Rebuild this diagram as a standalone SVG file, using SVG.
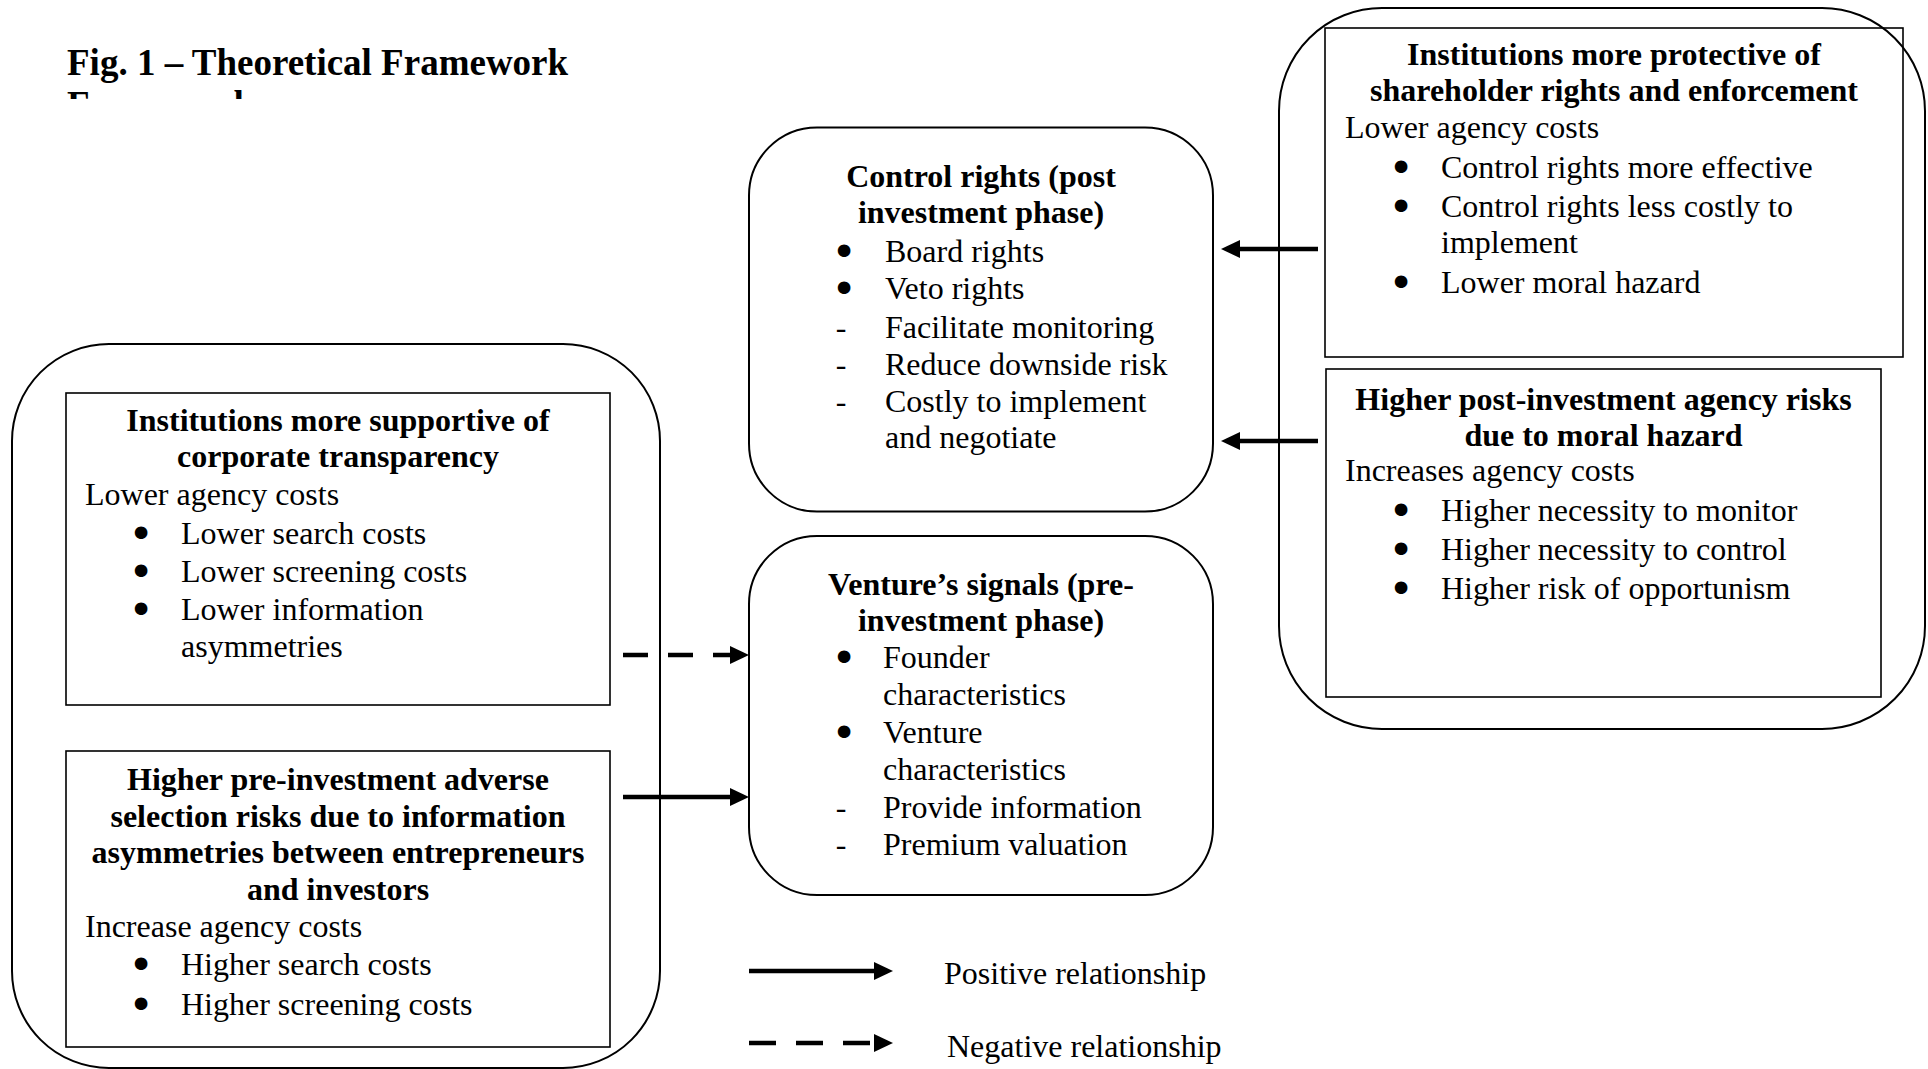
<svg xmlns="http://www.w3.org/2000/svg" width="1928" height="1069" viewBox="0 0 1928 1069">
<style>
text{font-family:"Liberation Serif","Times New Roman",serif;fill:#000}
.t{font-size:32px}
.b{font-size:32px;font-weight:bold}
.c{text-anchor:middle}
.title{font-size:37px;font-weight:bold}
.bl{font-size:32px;text-anchor:middle;stroke:#000;stroke-width:5;stroke-linejoin:round}
.ds{font-size:32px;text-anchor:middle}
.rr{fill:none;stroke:#000;stroke-width:2}
.bx{fill:none;stroke:#000;stroke-width:1.6}
.ar{fill:none;stroke:#000;stroke-width:4.5}
.dash{stroke-dasharray:25 20}
</style>
<defs>
<marker id="ah" viewBox="0 0 19 18" refX="0" refY="9" markerWidth="19" markerHeight="18" markerUnits="userSpaceOnUse" orient="auto">
<path d="M0,0 L19,9 L0,18 Z" fill="#000"/>
</marker>
<clipPath id="clipT"><rect x="0" y="85" width="700" height="14"/></clipPath>
</defs>
<rect width="1928" height="1069" fill="#fff"/>

<g id="title">
<text class="title" x="67" y="75">Fig. 1 – Theoretical Framework</text>
<g clip-path="url(#clipT)"><text class="title" x="67" y="116.5">Framework</text></g>
</g>

<g id="left-group">
<rect class="rr" x="12" y="344" width="648" height="724" rx="97" ry="97"/>
</g>

<g id="transparency">
<rect class="bx" x="66" y="393" width="544" height="312"/>
<text class="b c" x="338" y="431">Institutions more supportive of</text>
<text class="b c" x="338" y="467">corporate transparency</text>
<text class="t" x="85" y="505">Lower agency costs</text>
<text class="bl" x="141" y="544">•</text><text class="t" x="181" y="544">Lower search costs</text>
<text class="bl" x="141" y="582">•</text><text class="t" x="181" y="582">Lower screening costs</text>
<text class="bl" x="141" y="620">•</text><text class="t" x="181" y="620">Lower information</text>
<text class="t" x="181" y="657">asymmetries</text>
</g>

<g id="adverse-selection">
<rect class="bx" x="66" y="751" width="544" height="296"/>
<text class="b c" x="338" y="790">Higher pre-investment adverse</text>
<text class="b c" x="338" y="827">selection risks due to information</text>
<text class="b c" x="338" y="863">asymmetries between entrepreneurs</text>
<text class="b c" x="338" y="900">and investors</text>
<text class="t" x="85" y="937">Increase agency costs</text>
<text class="bl" x="141" y="975">•</text><text class="t" x="181" y="975">Higher search costs</text>
<text class="bl" x="141" y="1015">•</text><text class="t" x="181" y="1015">Higher screening costs</text>
</g>

<g id="control-rights">
<rect class="rr" x="749" y="127.5" width="464" height="384" rx="68" ry="68"/>
<text class="b c" x="981" y="187">Control rights (post</text>
<text class="b c" x="981" y="223">investment phase)</text>
<text class="bl" x="844" y="262">•</text><text class="t" x="885" y="262">Board rights</text>
<text class="bl" x="844" y="299">•</text><text class="t" x="885" y="299">Veto rights</text>
<text class="ds" x="841" y="338">-</text><text class="t" x="885" y="338">Facilitate monitoring</text>
<text class="ds" x="841" y="375">-</text><text class="t" x="885" y="375">Reduce downside risk</text>
<text class="ds" x="841" y="412">-</text><text class="t" x="885" y="412">Costly to implement</text>
<text class="t" x="885" y="448">and negotiate</text>
</g>

<g id="venture-signals">
<rect class="rr" x="749" y="536" width="464" height="359" rx="68" ry="68"/>
<text class="b c" x="981" y="595">Venture’s signals (pre-</text>
<text class="b c" x="981" y="631">investment phase)</text>
<text class="bl" x="844" y="668">•</text><text class="t" x="883" y="668">Founder</text>
<text class="t" x="883" y="705">characteristics</text>
<text class="bl" x="844" y="743">•</text><text class="t" x="883" y="743">Venture</text>
<text class="t" x="883" y="780">characteristics</text>
<text class="ds" x="841" y="818">-</text><text class="t" x="883" y="818">Provide information</text>
<text class="ds" x="841" y="855">-</text><text class="t" x="883" y="855">Premium valuation</text>
</g>

<g id="right-group">
<rect class="rr" x="1279" y="8" width="646" height="721" rx="103" ry="103"/>
</g>

<g id="protective">
<rect class="bx" x="1325" y="28" width="578" height="329"/>
<text class="b c" x="1614" y="65">Institutions more protective of</text>
<text class="b c" x="1614" y="101">shareholder rights and enforcement</text>
<text class="t" x="1345" y="138">Lower agency costs</text>
<text class="bl" x="1401" y="178">•</text><text class="t" x="1441" y="178">Control rights more effective</text>
<text class="bl" x="1401" y="217">•</text><text class="t" x="1441" y="217">Control rights less costly to</text>
<text class="t" x="1441" y="253">implement</text>
<text class="bl" x="1401" y="293">•</text><text class="t" x="1441" y="293">Lower moral hazard</text>
</g>

<g id="moral-hazard">
<rect class="bx" x="1326" y="369" width="555" height="328"/>
<text class="b c" x="1603.5" y="410">Higher post-investment agency risks</text>
<text class="b c" x="1603.5" y="446">due to moral hazard</text>
<text class="t" x="1345" y="481">Increases agency costs</text>
<text class="bl" x="1401" y="521">•</text><text class="t" x="1441" y="521">Higher necessity to monitor</text>
<text class="bl" x="1401" y="560">•</text><text class="t" x="1441" y="560">Higher necessity to control</text>
<text class="bl" x="1401" y="599">•</text><text class="t" x="1441" y="599">Higher risk of opportunism</text>
</g>

<g id="connectors">
<line class="ar dash" x1="623" y1="655" x2="730" y2="655" marker-end="url(#ah)"/>
<line class="ar" x1="623" y1="797" x2="730" y2="797" marker-end="url(#ah)"/>
<line class="ar" x1="1318" y1="249" x2="1240" y2="249" marker-end="url(#ah)"/>
<line class="ar" x1="1318" y1="441" x2="1240" y2="441" marker-end="url(#ah)"/>
</g>

<g id="legend">
<line class="ar" x1="749" y1="971" x2="874" y2="971" marker-end="url(#ah)"/>
<text class="t" x="944" y="984">Positive relationship</text>
<line class="ar" x1="749" y1="1043" x2="874" y2="1043" style="stroke-dasharray:27 20" marker-end="url(#ah)"/>
<text class="t" x="947" y="1057">Negative relationship</text>
</g>
</svg>
